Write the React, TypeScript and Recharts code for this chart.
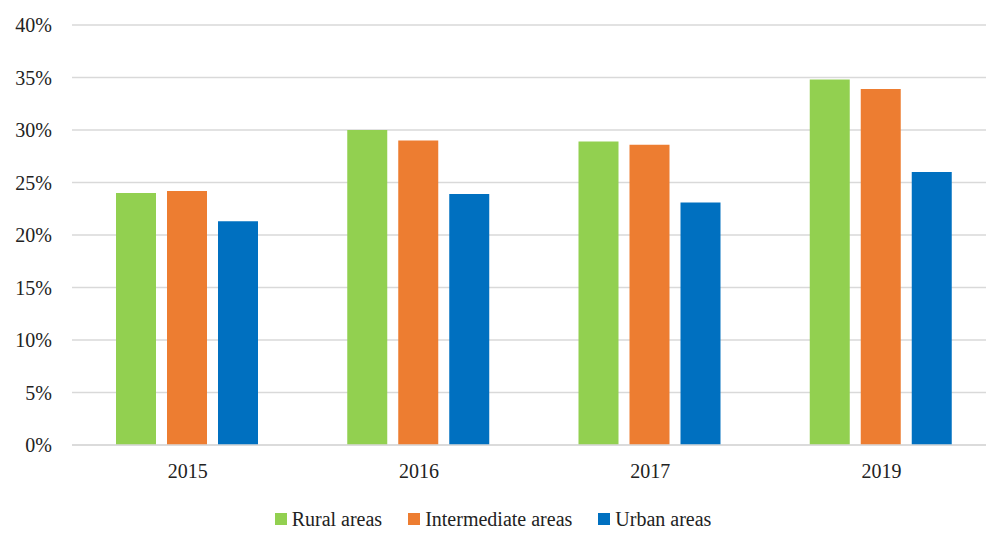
import React from 'react';
import {
  BarChart,
  Bar,
  XAxis,
  YAxis,
  CartesianGrid,
  Legend,
} from 'recharts';

// values (% of population)
const years = ['2015', '2016', '2017', '2019'];
const rural = [24.0, 30.0, 28.9, 34.8];
const intermediate = [24.2, 29.0, 28.6, 33.9];
const urban = [21.3, 23.9, 23.1, 26.0];
const yTicks = [0, 5, 10, 15, 20, 25, 30, 35, 40];

const series = [
  { key: 'rural', name: 'Rural areas', color: '#92D050' },
  { key: 'intermediate', name: 'Intermediate areas', color: '#ED7D31' },
  { key: 'urban', name: 'Urban areas', color: '#0070C0' },
];

const data = years.map((year, i) => ({
  year,
  rural: rural[i],
  intermediate: intermediate[i],
  urban: urban[i],
}));

const font = "'Liberation Serif', 'Times New Roman', serif";

// the original plot area runs past the right edge of the picture, so the chart is cut at 986
function LegendContent() {
  return (
    <div
      style={{
        display: 'flex',
        justifyContent: 'center',
        alignItems: 'center',
        gap: 26,
        fontFamily: font,
        fontSize: 20,
        lineHeight: '22px',
        color: '#222',
        width: 986,
        paddingTop: 8,
      }}
    >
      {series.map((s) => (
        <div key={s.key} style={{ display: 'flex', alignItems: 'center', gap: 5 }}>
          <div style={{ width: 12, height: 12, background: s.color }} />
          <span>{s.name}</span>
        </div>
      ))}
    </div>
  );
}

export default function App() {
  return (
    <div
      style={{
        position: 'absolute',
        left: 0,
        top: 0,
        width: 986,
        height: 533,
        overflow: 'hidden',
        background: '#fff',
      }}
    >
      <BarChart
        width={997}
        height={533}
        data={data}
        margin={{ top: 25, right: 0, bottom: 0, left: 0 }}
        barCategoryGap={44}
        barGap={11}
      >
        <CartesianGrid vertical={false} stroke="#D9D9D9" strokeWidth={1.5} />
        <XAxis
          dataKey="year"
          axisLine={{ stroke: '#D9D9D9', strokeWidth: 1.5 }}
          tickLine={false}
          tickMargin={13}
          height={55}
          tick={{ fill: '#222', fontSize: 20, fontFamily: font }}
        />
        <YAxis
          domain={[0, 40]}
          ticks={yTicks}
          interval={0}
          width={72}
          axisLine={false}
          tickLine={false}
          tickSize={0}
          tickMargin={20}
          tickFormatter={(v) => `${v}%`}
          tick={{ fill: '#222', fontSize: 20, fontFamily: font }}
        />
        <Legend
          verticalAlign="bottom"
          align="left"
          height={33}
          content={() => <LegendContent />}
        />
        {series.map((s) => (
          <Bar
            key={s.key}
            dataKey={s.key}
            name={s.name}
            fill={s.color}
            isAnimationActive={false}
          />
        ))}
      </BarChart>
    </div>
  );
}
